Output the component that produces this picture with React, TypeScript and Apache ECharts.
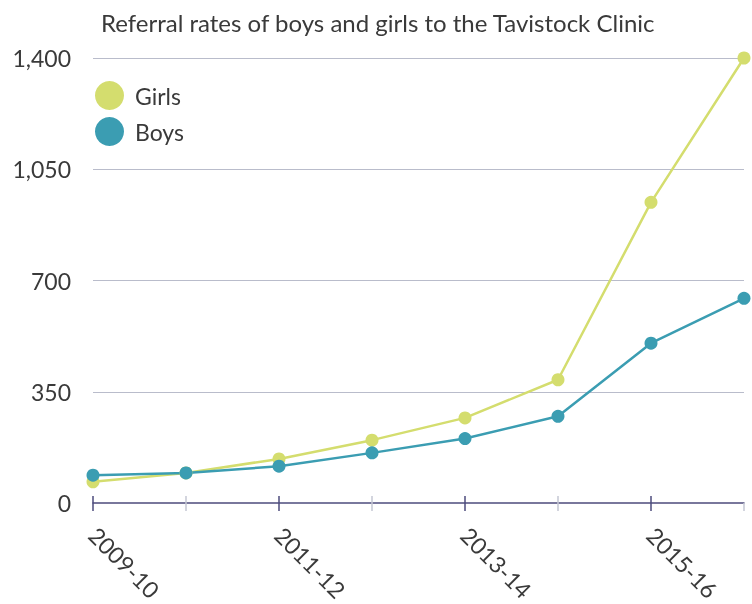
import React, { useEffect, useRef } from "react";
import * as echarts from "echarts";

const categories = ["2009-10", "2010-11", "2011-12", "2012-13", "2013-14", "2014-15", "2015-16", "2016-17"];
const girls = [67, 95, 139, 198, 268, 388, 946, 1400];
const boys = [88, 95, 116, 158, 203, 273, 503, 644];
const yTicks = [0, 350, 700, 1050, 1400];

const GIRLS_COLOR = "#d4dd6e";
const BOYS_COLOR = "#3b9db2";
const DARK = "#4d4b7c";
const LIGHT = "#c4c7d3";
const FONT = "Lato, 'Open Sans', sans-serif";

export default function App() {
  const ref = useRef<HTMLDivElement>(null);
  useEffect(() => {
    if (!ref.current) return;
    const chart = echarts.init(ref.current, null, { renderer: "svg" });
    const even = (i: number) => i % 2 === 0 && i < 7;
    const odd = (i: number) => i % 2 === 1;
    const baseX = {
      type: "category" as const,
      data: categories,
      boundaryGap: false,
      position: "bottom" as const,
      axisLabel: { show: false },
      splitLine: { show: false },
    };
    chart.setOption({
      animation: false,
      textStyle: { fontFamily: FONT },
      title: {
        text: "Referral rates of boys and girls to the Tavistock Clinic",
        left: 96,
        top: 5,
        textStyle: { fontFamily: FONT, fontSize: 24, fontWeight: "normal", color: "#3a3a3a" },
      },
      legend: {
        orient: "vertical",
        left: 90,
        top: 76,
        itemWidth: 29,
        itemHeight: 29,
        itemGap: 7,
        icon: "circle",
        data: ["Girls", "Boys"],
        textStyle: { fontFamily: FONT, fontSize: 23, color: "#3a3a3a", padding: [0, 0, 0, 6] },
      },
      grid: { left: 93, right: 8, top: 58, bottom: 99, containLabel: false },
      xAxis: [
        {
          ...baseX,
          axisLine: { show: true, lineStyle: { color: DARK, width: 1.5 } },
          axisTick: { show: true, interval: (i: number) => even(i), length: 8, lineStyle: { color: DARK, width: 1.5 } },
          axisLabel: {
            show: true,
            interval: (i: number) => even(i),
            rotate: -45,
            margin: 28,
            fontFamily: FONT,
            fontSize: 23,
            color: "#3a3a3a",
          },
        },
        {
          ...baseX,
          axisLine: { show: false },
          axisTick: { show: true, inside: true, interval: (i: number) => even(i), length: 7, lineStyle: { color: DARK, width: 1.5 } },
        },
        {
          ...baseX,
          axisLine: { show: false },
          axisTick: { show: true, interval: (i: number) => odd(i), length: 8, lineStyle: { color: LIGHT, width: 1.5 } },
        },
        {
          ...baseX,
          axisLine: { show: false },
          axisTick: { show: true, inside: true, interval: (i: number) => odd(i) && i < 7, length: 7, lineStyle: { color: LIGHT, width: 1.5 } },
        },
      ],
      yAxis: {
        type: "value",
        min: yTicks[0],
        max: yTicks[yTicks.length - 1],
        interval: 350,
        axisLine: { show: false },
        axisTick: { show: false },
        axisLabel: {
          margin: 22,
          fontFamily: FONT,
          fontSize: 23,
          color: "#3a3a3a",
          formatter: (v: number) => v.toLocaleString("en-US"),
        },
        splitLine: {
          show: true,
          lineStyle: { color: "#b9bccb", width: 1.2 },
          showMinLine: false,
        },
      },
      series: [
        {
          name: "Girls",
          type: "line",
          data: girls,
          color: GIRLS_COLOR,
          symbol: "circle",
          symbolSize: 13,
          lineStyle: { width: 2.5, color: GIRLS_COLOR },
          itemStyle: { color: GIRLS_COLOR },
        },
        {
          name: "Boys",
          type: "line",
          data: boys,
          color: BOYS_COLOR,
          symbol: "circle",
          symbolSize: 13,
          lineStyle: { width: 2.5, color: BOYS_COLOR },
          itemStyle: { color: BOYS_COLOR },
        },
      ],
    });
    return () => chart.dispose();
  }, []);
  return <div ref={ref} style={{ position: "fixed", left: 0, top: 0, width: 752, height: 604 }} />;
}
